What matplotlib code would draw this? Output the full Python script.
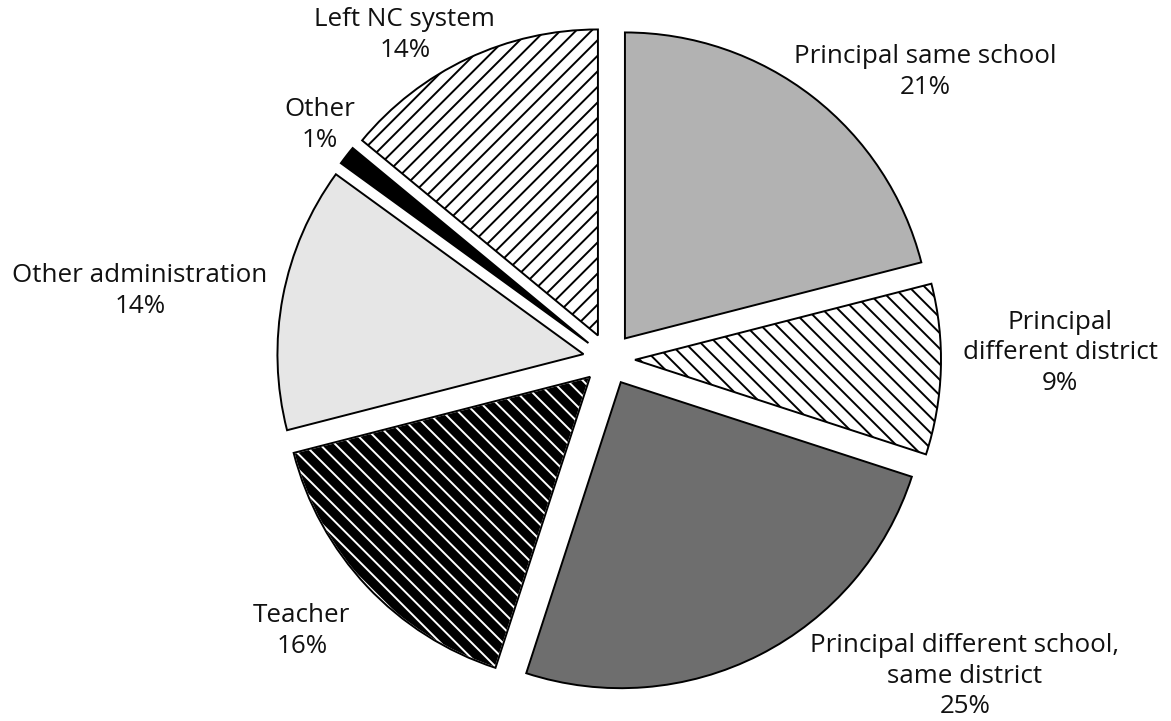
import matplotlib
matplotlib.use("Agg")
import matplotlib.pyplot as plt
from matplotlib.patches import Wedge

labels = ["Principal same school", "Principal\ndifferent district",
          "Principal different school,\nsame district", "Teacher",
          "Other administration", "Other", "Left NC system"]
shares = [21, 9, 25, 16, 14, 1, 14]
colors = ["#b2b2b2", "white", "#6e6e6e", "black", "#e6e6e6", "black", "white"]
hatches = [None, "\\\\\\", None, "\\\\\\", None, None, "///"]
# where each label sits, in pie-radius units from the centre
label_xy = [(1.033, 0.938), (1.474, 0.020), (1.163, -1.036), (-1.004, -0.889),
            (-1.533, 0.222), (-0.944, 0.765), (-0.667, 1.059)]

plt.rcParams["font.family"] = ["Open Sans", "DejaVu Sans"]
plt.rcParams["hatch.linewidth"] = 1.0

fig = plt.figure(figsize=(1171 / 140, 721 / 140), dpi=140)
ax = fig.add_axes([0, 0, 1, 1])

wedges, _ = ax.pie(shares, colors=colors, startangle=90, counterclock=False,
                   explode=[0.085] * len(shares), radius=1,
                   wedgeprops=dict(edgecolor="black", linewidth=1.0))

for w, h in zip(wedges, hatches):
    if h is None:
        continue
    w.set_hatch(h)
    if w.get_facecolor()[0] < 0.5:
        # dark wedge: white hatch lines, then a black outline on top
        w.set_edgecolor("white")
        outline = Wedge(w.center, w.r, w.theta1, w.theta2, fill=False,
                        edgecolor="black", linewidth=1.0, zorder=w.get_zorder() + 1)
        ax.add_patch(outline)

for lab, s, (x, y) in zip(labels, shares, label_xy):
    ax.text(x, y, f"{lab}\n{s}%", ha="center", va="center", fontsize=13.4,
            color="#111111", linespacing=1.3)

ax.set_aspect("equal")
ax.set_xlim(-609 / 306, (1171 - 609) / 306)
ax.set_ylim(-362 / 306, 359 / 306)
ax.axis("off")

fig.savefig("out.png", dpi=140, facecolor="white")
